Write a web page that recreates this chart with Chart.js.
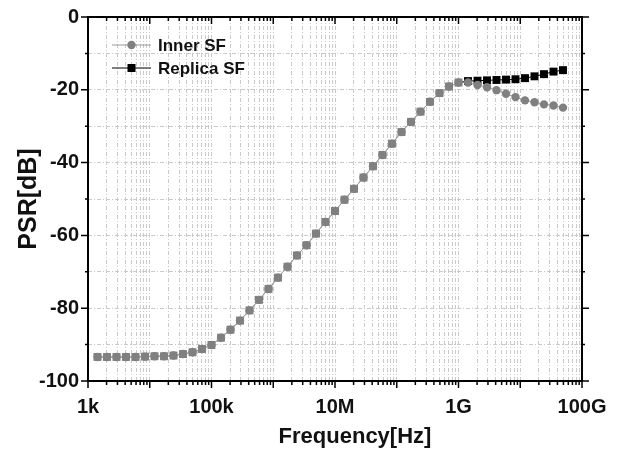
<!DOCTYPE html>
<html><head><meta charset="utf-8">
<script src="https://cdn.jsdelivr.net/npm/chart.js@4.4.0/dist/chart.umd.min.js"></script>
<style>html,body{margin:0;padding:0;background:#fff;}#wrap{width:620px;height:454px;}</style>
</head><body><div id="wrap"><canvas id="c" width="620" height="454"></canvas></div>
<script>
// Frequency points [Hz]
const frequencies = [
  1425, 2031, 2894, 4125, 5878, 8377, 11940, 17010, 24240, 34550, 49240, 70170, 1e5,
  1.425e5, 2.031e5, 2.894e5, 4.125e5, 5.878e5, 8.377e5, 1.194e6, 1.701e6, 2.424e6, 3.455e6, 4.924e6, 7.017e6, 1e7,
  1.425e7, 2.031e7, 2.894e7, 4.125e7, 5.878e7, 8.377e7, 1.194e8, 1.701e8, 2.424e8, 3.455e8, 4.924e8, 7.017e8, 1e9,
  1.425e9, 2.031e9, 2.894e9, 4.125e9, 5.878e9, 8.377e9, 1.194e10, 1.701e10, 2.424e10, 3.455e10, 4.924e10
];
// PSR [dB]
const innerSF = [
  -93.4, -93.4, -93.4, -93.4, -93.4, -93.3, -93.2, -93.2, -93.0, -92.6, -92.1, -91.2, -90.1,
  -88.1, -85.9, -83.4, -80.6, -77.7, -74.7, -71.6, -68.6, -65.5, -62.7, -59.5, -56.3, -53.3,
  -50.2, -47.2, -44.1, -41.0, -37.9, -34.8, -31.6, -28.8, -26.0, -23.3, -20.9, -19.1, -18.0,
  -18.0, -18.7, -19.3, -20.1, -21.1, -22.0, -22.9, -23.4, -24.0, -24.3, -24.9
];
const replicaSF = [
  -93.4, -93.4, -93.4, -93.4, -93.4, -93.3, -93.2, -93.2, -93.0, -92.6, -92.1, -91.2, -90.1,
  -88.1, -85.9, -83.4, -80.6, -77.7, -74.7, -71.6, -68.6, -65.5, -62.7, -59.5, -56.3, -53.3,
  -50.2, -47.2, -44.1, -41.0, -37.9, -34.8, -31.6, -28.8, -26.0, -23.3, -20.9, -19.1, -18.0,
  -17.6, -17.5, -17.4, -17.3, -17.2, -17.1, -16.8, -16.3, -15.7, -15.0, -14.6
];
const seriesNames = ['Inner SF', 'Replica SF'];
const xTickValues = [1e3, 1e5, 1e7, 1e9, 1e11];
const xTickLabels = ['1k', '100k', '10M', '1G', '100G'];
const yTickValues = [0, -20, -40, -60, -80, -100];
const xTitle = 'Frequency[Hz]';
const yTitle = 'PSR[dB]';

const GRAY_LINE = '#9a9a9a', GRAY_PT = '#808080', FONT = '"Liberation Sans", Arial, sans-serif';

const frame = {
  id: 'frame',
  afterDraw(chart) {
    const {ctx, chartArea: a, scales: {x, y}} = chart;
    ctx.save();
    ctx.strokeStyle = '#000';
    ctx.lineWidth = 1.5;
    ctx.beginPath();
    x.ticks.forEach(t => {
      const px = x.getPixelForValue(t.value);
      const dec = Math.abs(Math.log10(t.value) - Math.round(Math.log10(t.value))) < 1e-9;
      const len = dec ? 7 : 4;
      ctx.moveTo(px, a.bottom); ctx.lineTo(px, a.bottom + len);
      ctx.moveTo(px, a.top); ctx.lineTo(px, a.top + len);
    });
    y.ticks.forEach(t => {
      const py = y.getPixelForValue(t.value);
      const len = (t.value % 20 === 0) ? 7 : 3;
      ctx.moveTo(a.left - len, py); ctx.lineTo(a.left, py);
      ctx.moveTo(a.right, py); ctx.lineTo(a.right + len, py);
    });
    ctx.stroke();
    ctx.lineWidth = 2;
    ctx.strokeRect(a.left, a.top, a.right - a.left, a.bottom - a.top);
    // legend
    const items = chart.data.datasets;
    const lx0 = a.left + 24, lx1 = a.left + 63, tx = a.left + 70;
    const rows = [a.top + 28, a.top + 51];
    items.forEach((ds, i) => {
      const yy = rows[i];
      ctx.strokeStyle = ds.borderColor; ctx.lineWidth = 1;
      ctx.beginPath(); ctx.moveTo(lx0, yy); ctx.lineTo(lx1, yy); ctx.stroke();
      ctx.fillStyle = ds.legendPoint;
      const cx = (lx0 + lx1) / 2;
      if (ds.pointStyle === 'circle') { ctx.beginPath(); ctx.arc(cx, yy, 4.2, 0, Math.PI * 2); ctx.fill(); }
      else { ctx.fillRect(cx - 4, yy - 4, 8, 8); }
      ctx.fillStyle = '#111';
      ctx.font = 'bold 17px ' + FONT;
      ctx.textBaseline = 'middle'; ctx.textAlign = 'left';
      ctx.fillText(ds.label, tx, yy + 1);
    });
    // x axis title
    ctx.fillStyle = '#111';
    ctx.font = 'bold 22px ' + FONT;
    ctx.textAlign = 'center'; ctx.textBaseline = 'middle';
    ctx.fillText(xTitle, 355, 437);
    ctx.restore();
  }
};

new Chart(document.getElementById('c'), {
  type: 'line',
  data: {
    datasets: [
      {
        label: seriesNames[0],
        data: frequencies.map((f, i) => ({x: f, y: innerSF[i]})),
        borderColor: GRAY_LINE, borderWidth: 1,
        pointStyle: 'circle', pointRadius: 4.2, pointBorderWidth: 0,
        pointBackgroundColor: GRAY_PT, legendPoint: GRAY_PT, tension: 0
      },
      {
        label: seriesNames[1],
        data: frequencies.map((f, i) => ({x: f, y: replicaSF[i]})),
        borderColor: '#000', borderWidth: 1,
        segment: { borderColor: c => (replicaSF[c.p1DataIndex] === innerSF[c.p1DataIndex] ? GRAY_LINE : '#000') },
        pointStyle: 'rect', pointRadius: 5.6, pointBorderWidth: 0,
        pointBackgroundColor: c => (replicaSF[c.dataIndex] === innerSF[c.dataIndex] ? GRAY_PT : '#000'),
        legendPoint: '#000', tension: 0
      }
    ]
  },
  options: {
    responsive: false, animation: false, devicePixelRatio: 1,
    layout: { padding: { top: 17, right: 38, left: 0, bottom: 0 } },
    plugins: { legend: { display: false }, tooltip: { enabled: false } },
    scales: {
      x: {
        type: 'logarithmic', min: 1e3, max: 1e11,
        afterBuildTicks: s => {
          const t = [];
          for (let e = 3; e <= 10; e++) for (let m = 1; m <= 9; m++) t.push({value: m * Math.pow(10, e)});
          t.push({value: 1e11});
          s.ticks = t;
        },
        afterFit: s => { s.height = 73; s.paddingLeft = 0; s.paddingRight = 0; },
        ticks: {
          autoSkip: false, maxRotation: 0, padding: 14, color: '#111',
          font: { family: FONT, size: 20, weight: 'bold' },
          callback: v => { const i = xTickValues.indexOf(v); return i < 0 ? '' : xTickLabels[i]; }
        },
        grid: { color: '#cacaca', lineWidth: 1, drawTicks: false },
        border: { display: false, dash: [4, 2, 1, 2] },
        title: { display: false }
      },
      y: {
        min: -100, max: 0,
        afterFit: s => { s.width = 88; s.paddingTop = 0; s.paddingBottom = 0; },
        ticks: {
          stepSize: 10, padding: 9, color: '#111',
          font: { family: FONT, size: 20, weight: 'bold' },
          callback: v => (yTickValues.includes(v) ? String(v) : '')
        },
        grid: { color: '#cacaca', lineWidth: 1, drawTicks: false },
        border: { display: false, dash: [4, 2, 1, 2] },
        title: { display: true, text: yTitle, color: '#111', padding: { top: 14, bottom: 0 },
                 font: { family: FONT, size: 25, weight: 'bold' } }
      }
    }
  },
  plugins: [frame]
});
</script></body></html>
